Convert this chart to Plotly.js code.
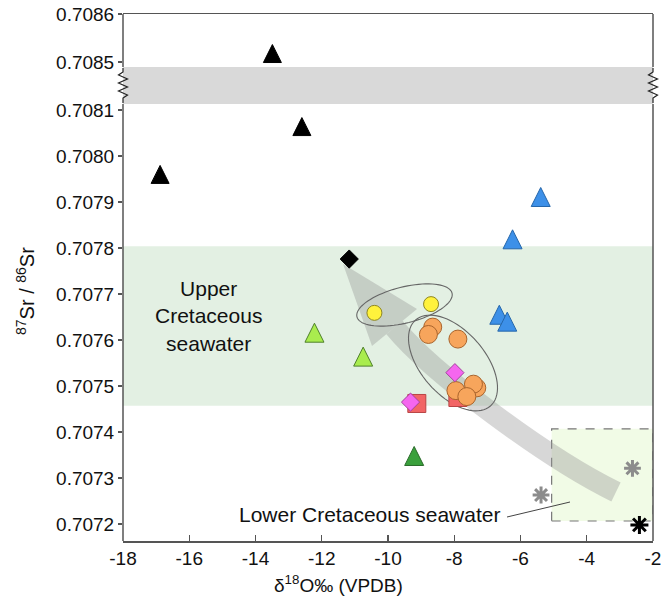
<!DOCTYPE html>
<html><head><meta charset="utf-8">
<script src="https://cdn.plot.ly/plotly-3.0.1.min.js"></script>
<style>html,body{margin:0;padding:0;background:#fff;} #chart{width:662px;height:603px;}</style>
</head><body><div id="chart"></div>
<script>
// ---------------- data (real values) ----------------
const blackTriX = [-16.88, -13.49, -12.60];
const blackTriY = [0.707952, 0.708510, 0.708056];
const blueTriX = [-5.39, -6.24, -6.64, -6.40];
const blueTriY = [0.707904, 0.707812, 0.707648, 0.707633];
const limeTriX = [-12.22, -10.75];
const limeTriY = [0.707609, 0.707557];
const greenTriX = [-9.21];
const greenTriY = [0.707341];
const yellowX = [-10.41, -8.70];
const yellowY = [0.707659, 0.707678];
const orangeX = [-8.65, -8.78, -7.89, -7.32, -7.42, -7.95, -7.62];
const orangeY = [0.707628, 0.707612, 0.707602, 0.707496, 0.707504, 0.707490, 0.707477];
const pinkX = [-7.98, -9.32];
const pinkY = [0.707529, 0.707465];
const redX = [-9.13, -7.89];
const redY = [0.707462, 0.707475];
const blackDiaX = [-11.17];
const blackDiaY = [0.707776];
const greyAstX = [-5.38, -2.62];
const greyAstY = [0.707263, 0.707321];
const blackAstX = [-2.41];
const blackAstY = [0.707198];

const upperSeawaterY = [0.707457, 0.707804];        // Upper Cretaceous seawater band
const lowerSeawaterX = [-5.06, -2];                   // Lower Cretaceous seawater box
const lowerSeawaterY = [0.7072065, 0.707407];

const xTicks = [-18, -16, -14, -12, -10, -8, -6, -4, -2];
const yTicks = [0.7072, 0.7073, 0.7074, 0.7075, 0.7076, 0.7077, 0.7078, 0.7079, 0.7080, 0.7081, 0.7085, 0.7086];

// ---------------- broken y scale ----------------
const BREAK_LO = 0.7081, BREAK_HI = 0.7085, UNIT = 0.0001, SEG = 48 / 46;
function toDisp(v) {
  if (v <= BREAK_LO) return v;
  if (v <= BREAK_HI) return BREAK_LO + (v - BREAK_LO) / (BREAK_HI - BREAK_LO) * SEG * UNIT;
  return BREAK_LO + SEG * UNIT + (v - BREAK_HI) * SEG;
}
const X0 = -18, X1 = -2;
const Y0 = 0.7072 - 17 / 46 * UNIT;
const Y1 = toDisp(0.7086);

// plot frame in pixels
const L = 123, R = 653, T = 14, B = 541;
const PX = p => (p - L) / (R - L);
const PY = p => (B - p) / (B - T);
const DX = p => X0 + PX(p) * (X1 - X0);
const DY = p => Y0 + PY(p) * (Y1 - Y0);
const TRI = 19;
const dd = (TRI * 2 / 3) * (Y1 - Y0) / (B - T); // centroid offset for triangle markers

const font = 'Arial, "Liberation Sans", sans-serif';

function mk(x, y, sym, size, fill, line, lw, axis) {
  return {x: x, y: y.map(toDisp), type: 'scatter', mode: 'markers', yaxis: axis || 'y',
    hoverinfo: 'skip',
    marker: {symbol: sym, size: size, color: fill, line: {color: line, width: lw}}};
}

const traces = [
  mk(redX, redY, 'square', 18, '#f26565', '#b94444', 1),
  mk(orangeX, orangeY, 'circle', 18, '#f7a55c', '#a9642c', 1),
  mk(pinkX, pinkY, 'diamond', 14, '#f566ef', '#a2449c', 1),
  mk(yellowX, yellowY, 'circle', 15, '#fff23c', '#8d8524', 1),
  mk(blackDiaX, blackDiaY, 'diamond', 14, '#000000', '#000000', 1),
  mk(greyAstX, greyAstY, 'asterisk-open', 14, '#8c8c8c', '#8c8c8c', 3),
  mk(blackAstX, blackAstY, 'asterisk-open', 15, '#000000', '#000000', 3),
  mk(blackTriX, blackTriY, 'arrow-up', 18, '#000000', '#000000', 1, 'y2'),
  mk(blueTriX, blueTriY, 'arrow-up', TRI, '#3d90e8', '#2566aa', 1, 'y2'),
  mk(limeTriX, limeTriY, 'arrow-up', TRI, '#a9ec4e', '#4f802b', 1, 'y2'),
  mk(greenTriX, greenTriY, 'arrow-up', TRI, '#3aa03c', '#2a6a2a', 1, 'y2')
];

const f = (px, py) => DX(px).toFixed(5) + ',' + DY(py).toFixed(8);
function ellipsePath(cx, cy, a, b, deg) {
  const th = deg * Math.PI / 180;
  let s = '';
  for (let i = 0; i <= 80; i++) {
    const t = i / 80 * 2 * Math.PI;
    const px = cx + a * Math.cos(t) * Math.cos(th) - b * Math.sin(t) * Math.sin(th);
    const py = cy + a * Math.cos(t) * Math.sin(th) + b * Math.sin(t) * Math.cos(th);
    s += (i ? 'L' : 'M') + f(px, py);
  }
  return s + 'Z';
}
function pathData(pts, close) {
  return pts.map((p, i) => (i ? 'L' : 'M') + f(p[0], p[1])).join('') + (close ? 'Z' : '');
}
function pathPaper(pts) {
  return pts.map((p, i) => (i ? 'L' : 'M') + PX(p[0]).toFixed(5) + ',' + PY(p[1]).toFixed(5)).join('');
}
function zigzag(xc, amp) {
  const pts = [[xc, 68], [xc, 72]];
  let side = -1;
  for (let y = 75; y <= 95; y += 4) { pts.push([xc + side * amp, y]); side = -side; }
  pts.push([xc, 98]); pts.push([xc, 103]);
  return pathPaper(pts);
}

const arrowCol = 'rgba(150,150,150,0.38)';
const Bp = [394.5, 327.5], C1 = [432.6, 373.8], C2 = [548.5, 459], Ep = [616, 492];
const shaft = 'M' + f(Bp[0], Bp[1]) + 'C' + f(C1[0], C1[1]) + ' ' + f(C2[0], C2[1]) + ' ' + f(Ep[0], Ep[1]);

const shapes = [
  // break band
  {type: 'rect', layer: 'below', xref: 'x', yref: 'y', x0: X0, x1: X1, y0: DY(104), y1: DY(67),
   fillcolor: '#d9d9d9', line: {width: 0}},
  // Upper Cretaceous seawater
  {type: 'rect', layer: 'below', xref: 'x', yref: 'y', x0: X0, x1: X1,
   y0: toDisp(upperSeawaterY[0]), y1: toDisp(upperSeawaterY[1]), fillcolor: '#e3f0e3', line: {width: 0}},
  // Lower Cretaceous seawater
  {type: 'rect', layer: 'below', xref: 'x', yref: 'y', x0: lowerSeawaterX[0], x1: lowerSeawaterX[1],
   y0: toDisp(lowerSeawaterY[0]), y1: toDisp(lowerSeawaterY[1]), fillcolor: '#f1fbe6',
   line: {color: '#777777', width: 1.2, dash: 'dash'}},
  // arrow
  {type: 'path', layer: 'below', xref: 'x', yref: 'y', path: shaft, fillcolor: 'rgba(0,0,0,0)',
   line: {color: arrowCol, width: 21}},
  {type: 'path', layer: 'below', xref: 'x', yref: 'y',
   path: pathData([[343, 264], [417, 309], [372, 346]], true), fillcolor: arrowCol, line: {width: 0}},
  // ellipses
  {type: 'path', layer: 'below', xref: 'x', yref: 'y', path: ellipsePath(404.5, 305, 49, 18, -14),
   fillcolor: 'rgba(0,0,0,0)', line: {color: '#666666', width: 1.1}},
  {type: 'path', layer: 'below', xref: 'x', yref: 'y', path: ellipsePath(453, 363, 57, 32, 49),
   fillcolor: 'rgba(0,0,0,0)', line: {color: '#666666', width: 1.1}},
  // leader line
  {type: 'line', xref: 'paper', yref: 'paper', x0: PX(507), y0: PY(517), x1: PX(570), y1: PY(502),
   line: {color: '#444444', width: 1}},
  // frame left/right with gap
  {type: 'line', xref: 'paper', yref: 'paper', x0: 0, x1: 0, y0: 0, y1: PY(104), line: {color: '#555555', width: 1.5}},
  {type: 'line', xref: 'paper', yref: 'paper', x0: 0, x1: 0, y0: PY(67), y1: 1, line: {color: '#555555', width: 1.5}},
  {type: 'line', xref: 'paper', yref: 'paper', x0: 1, x1: 1, y0: 0, y1: PY(104), line: {color: '#555555', width: 1.5}},
  {type: 'line', xref: 'paper', yref: 'paper', x0: 1, x1: 1, y0: PY(67), y1: 1, line: {color: '#555555', width: 1.5}},
  // zigzag break marks
  {type: 'path', xref: 'paper', yref: 'paper', path: zigzag(123, 4.5), line: {color: '#222222', width: 1.2}},
  {type: 'path', xref: 'paper', yref: 'paper', path: zigzag(653, 4.5), line: {color: '#222222', width: 1.2}}
];

const annotations = [
  {xref: 'paper', yref: 'paper', x: PX(25), y: PY(291), text: '<sup>87</sup>Sr / <sup>86</sup>Sr',
   textangle: -90, showarrow: false, font: {family: font, size: 20, color: '#111'}, xanchor: 'center', yanchor: 'middle'},
  {xref: 'paper', yref: 'paper', x: PX(338), y: PY(584), text: 'δ<sup>18</sup>O‰ (VPDB)',
   showarrow: false, font: {family: font, size: 19, color: '#111'}, xanchor: 'center', yanchor: 'middle'},
  {xref: 'paper', yref: 'paper', x: PX(208), y: PY(316), text: 'Upper<br>Cretaceous<br>seawater',
   showarrow: false, font: {family: font, size: 21, color: '#111'}, xanchor: 'center', yanchor: 'middle'},
  {xref: 'paper', yref: 'paper', x: PX(369), y: PY(514), text: 'Lower Cretaceous seawater',
   showarrow: false, font: {family: font, size: 21, color: '#111'}, xanchor: 'center', yanchor: 'middle'}
];

const layout = {
  width: 662, height: 603,
  margin: {l: L, r: 662 - R, t: T, b: 603 - B, pad: 0},
  paper_bgcolor: '#ffffff', plot_bgcolor: '#ffffff',
  showlegend: false,
  font: {family: font, color: '#111'},
  xaxis: {range: [X0, X1], tickvals: xTicks, ticktext: xTicks.map(String), ticks: 'inside', ticklen: 6,
    tickcolor: '#555', tickwidth: 1.2, showgrid: false, zeroline: false, showline: true, mirror: true,
    linecolor: '#555', linewidth: 1.5, tickfont: {family: font, size: 19, color: '#111'}},
  yaxis: {range: [Y0, Y1], tickvals: yTicks.map(toDisp), ticktext: yTicks.map(v => v.toFixed(4)),
    ticks: 'outside', ticklen: 4, tickcolor: '#555', tickwidth: 1.2, showgrid: false, zeroline: false,
    showline: false, tickfont: {family: font, size: 19, color: '#111'}},
  yaxis2: {range: [Y0 - dd, Y1 - dd], overlaying: 'y', visible: false, showgrid: false, zeroline: false},
  shapes: shapes,
  annotations: annotations
};

Plotly.newPlot('chart', traces, layout, {staticPlot: true, displayModeBar: false});
</script>
</body></html>
